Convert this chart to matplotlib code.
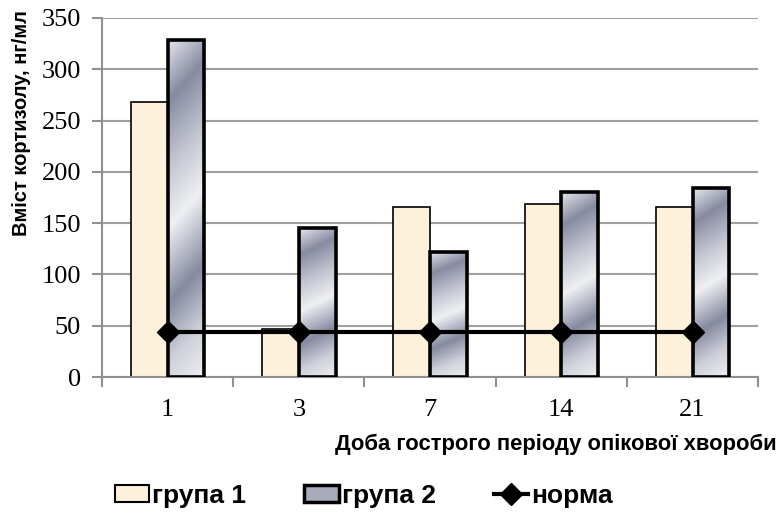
import numpy as np
import matplotlib.pyplot as plt
from matplotlib.colors import LinearSegmentedColormap
from matplotlib.patches import Patch
from matplotlib.lines import Line2D

# data
days = ['1', '3', '7', '14', '21']
grupa1 = [268, 47, 166, 169, 166]
grupa2 = [329, 145, 122, 180, 184]
norma = [44, 44, 44, 44, 44]

plt.rcParams['font.family'] = ['Liberation Sans', 'DejaVu Sans']

fig = plt.figure(figsize=(7.84, 5.13), dpi=100)
ax = fig.add_axes([0.130, 0.265, 0.837, 0.700])

x = np.arange(len(days))
w = 0.28

# grid behind everything
ax.set_axisbelow(True)
ax.yaxis.grid(True, color='#a0a0a0', lw=1.5)

bars1 = ax.bar(x - w / 2, grupa1, w, color='#fdf1dc', edgecolor='black', lw=1.2, zorder=2)
bars2 = ax.bar(x + w / 2, grupa2, w, color='none', edgecolor='black', lw=2.6, zorder=3)

# metallic gradient for group 2
metal = LinearSegmentedColormap.from_list('metal', [
    (0.0, '#e4e5eb'), (0.16, '#868ba1'), (0.34, '#c4c7d2'), (0.5, '#eff0f3'),
    (0.7, '#858aa0'), (0.86, '#cfd1da'), (1.0, '#eeeff2')])
yy, xx = np.mgrid[0:1:200j, 0:1:40j]
grad = (yy + 0.12 * xx) / 1.12
for b in bars2:
    x0, bw, h = b.get_x(), b.get_width(), b.get_height()
    im = ax.imshow(grad, cmap=metal, aspect='auto', origin='upper',
                   extent=(x0, x0 + bw, 0, h), zorder=2.5, interpolation='bilinear')
    im.set_clip_path(b)

ax.plot(x, norma, color='black', lw=3, marker='D', ms=11, zorder=4)

ax.set_xlim(-0.5, len(days) - 0.5)
ax.set_ylim(0, 350)
ax.set_yticks(range(0, 351, 50))
ax.set_xticks(np.arange(-0.5, len(days), 1.0))
ax.set_xticklabels([])
ax.set_xticks(x, minor=True)
ax.set_xticklabels(days, minor=True, family='Liberation Serif', fontsize=19)
ax.tick_params(axis='x', which='minor', length=0, pad=16)
ax.tick_params(axis='x', which='major', direction='out', length=7, color='#909090', width=1.5)
ax.tick_params(axis='y', direction='out', length=7, color='#909090', width=1.5, pad=8)
for lab in ax.get_yticklabels():
    lab.set_family('Liberation Serif')
    lab.set_fontsize(19)

for s in ['top', 'right']:
    ax.spines[s].set_visible(False)
for s in ['left', 'bottom']:
    ax.spines[s].set_color('#909090')
    ax.spines[s].set_linewidth(1.5)

fig.text(22 / 784, 1 - 123 / 513, 'Вміст кортизолу, нг/мл', rotation=90,
         ha='center', va='center', fontsize=14.5, fontweight='bold')
fig.text(777 / 784, 1 - 444 / 513, 'Доба гострого періоду опікової хвороби',
         ha='right', va='center', fontsize=15.8, fontweight='bold')

handles = [
    Patch(facecolor='#fdf1dc', edgecolor='black', lw=1.5),
    Patch(facecolor='#a7abba', edgecolor='black', lw=2.5),
    Line2D([0], [0], color='black', lw=3, marker='D', ms=11),
]
fig.legend(handles, ['група 1', 'група 2', 'норма'], loc='center',
           bbox_to_anchor=(364 / 784, 1 - 496 / 513), ncol=3, frameon=False,
           prop={'weight': 'bold', 'size': 19}, handlelength=1.3, handleheight=0.6,
           handletextpad=0.12, columnspacing=2.2, borderpad=0)

fig.savefig('out.png', dpi=100)
